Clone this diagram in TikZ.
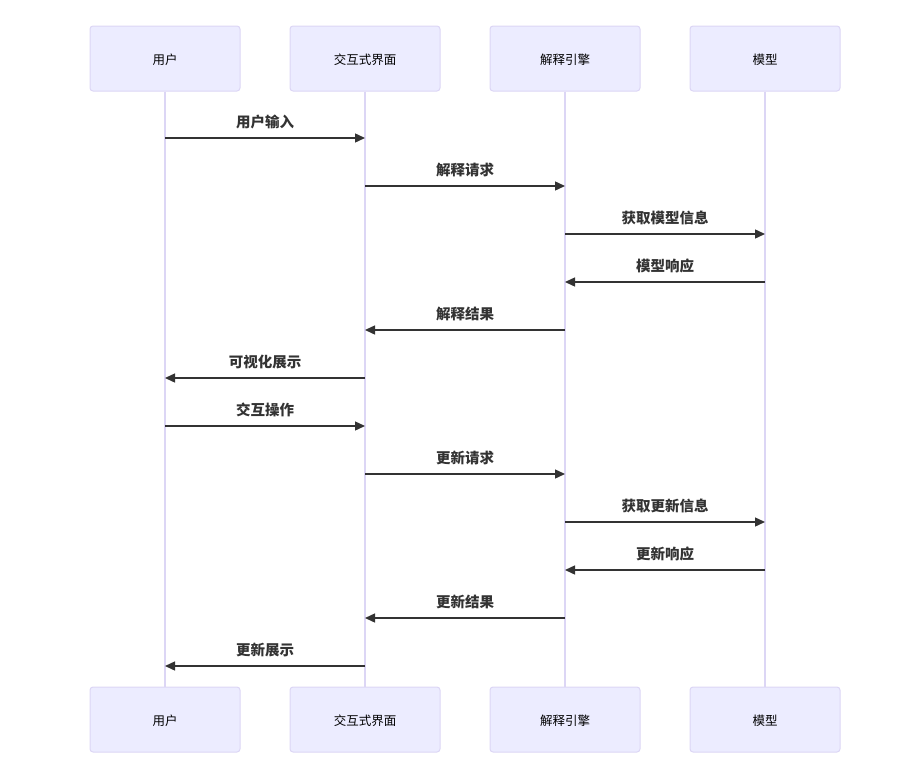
\documentclass[tikz,border=0pt]{standalone}
\usepackage{fontspec}
\setmainfont{Noto Sans CJK SC}
\usetikzlibrary{arrows.meta}
\definecolor{actfill}{HTML}{ECECFF}
\definecolor{actline}{HTML}{DCD6F5}
\definecolor{msg}{HTML}{333333}
\begin{document}
\begin{tikzpicture}[x=1pt,y=-1pt,
  actor/.style={draw=actline,fill=actfill,line width=1pt,rounded corners=3pt,minimum width=150pt,minimum height=65pt,inner sep=0pt,font=\fontsize{12.5}{14}\selectfont,text=black},
  life/.style={draw=actline,line width=1.3pt},
  msgline/.style={draw=msg,line width=1.4pt,-{Triangle[length=10pt,width=9pt]}},
  lbl/.style={font=\bfseries\fontsize{14.5}{16}\selectfont,text=msg,above=7pt,midway,inner sep=1pt}]
\useasboundingbox (0,0) rectangle (922,779);
\foreach \n/\x/\t in {u/165/用户,i/365/交互式界面,e/565/解释引擎,m/765/模型}{
  \node[actor] (\n top) at (\x,58.5) {\smash{\raisebox{-6pt}{\t}}};
  \node[actor] (\n bot) at (\x,719.5) {\smash{\raisebox{-6pt}{\t}}};
  \draw[life] (\n top.south) -- (\n bot.north);
}
\foreach \a/\b/\y/\t in {u/i/138/用户输入,i/e/186/解释请求,e/m/234/获取模型信息,m/e/282/模型响应,e/i/330/解释结果,i/u/378/可视化展示,u/i/426/交互操作,i/e/474/更新请求,e/m/522/获取更新信息,m/e/570/更新响应,e/i/618/更新结果,i/u/666/更新展示}{
  \coordinate (s) at (\a top.south |- 0,\y);
  \coordinate (t) at (\b top.south |- 0,\y);
  \draw[msgline] (s) -- (t) node[lbl] {\t};
}
\end{tikzpicture}
\end{document}
